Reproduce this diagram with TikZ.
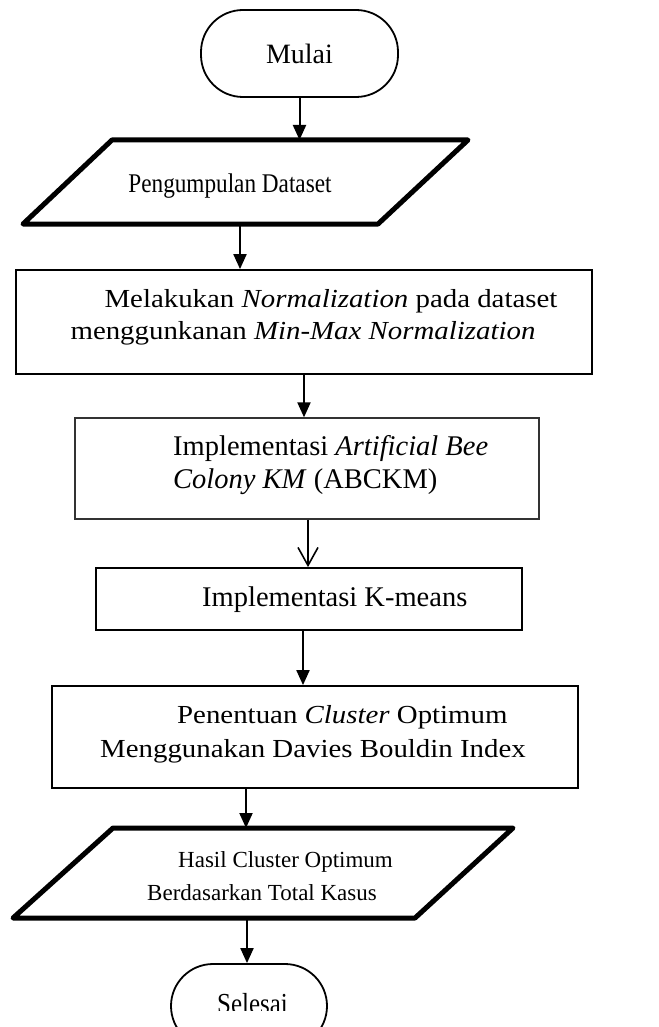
\documentclass[tikz,border=0pt]{standalone}
\usepackage{fontspec}
\setmainfont{Liberation Serif}
\newfontfamily\fwide{Liberation Serif}[FakeStretch=1.11]
\newfontfamily\fnarrow{Liberation Serif}[FakeStretch=0.86]
\usetikzlibrary{arrows.meta}
\tikzset{
  term/.style={draw=black, line width=1.8pt, rounded corners=42pt, inner sep=0pt},
  procbox/.style={draw=black, line width=1.8pt, inner sep=0pt},
  lightbox/.style={draw=black!80, line width=1.3pt, inner sep=0pt},
  iobox/.style={draw=black, line width=5pt, line join=round},
  arr/.style={line width=2pt, -{Triangle[length=15pt,width=13pt]}},
  openarr/.style={line width=1.6pt, -{Straight Barb[length=18pt,width=20pt,line width=1.6pt]}},
  lbl/.style={inner sep=0pt, anchor=base west},
  lblc/.style={inner sep=0pt, anchor=base},
}
\begin{document}
\begin{tikzpicture}[x=1pt,y=-1pt]
\useasboundingbox (0,0) rectangle (658,1027);
\clip (0,0) rectangle (658,1027);
\fill[white] (0,0) rectangle (658,1027);

% Mulai
\node[term, minimum width=197pt, minimum height=87pt, font=\fontsize{28}{32}\selectfont] (start) at (299.5,53.5) {Mulai};

% Pengumpulan Dataset (input)
\draw[iobox] (112,140) -- (468,140) -- (378,224) -- (23,224) -- cycle;
\coordinate (p1in) at (299.5,140);
\coordinate (p1out) at (240,224);
\node[lblc, font=\fnarrow\fontsize{27}{31}\selectfont] (p1t) at (230,193) {Pengumpulan Dataset};

% Normalization
\node[procbox, minimum width=576pt, minimum height=104pt] (b1) at (304,322) {};
\node[lblc, font=\fwide\fontsize{26}{30}\selectfont] (b1t1) at (331,307) {Melakukan \textit{Normalization} pada dataset};
\node[lblc, font=\fwide\fontsize{26}{30}\selectfont] (b1t2) at (303,339) {menggunkanan \textit{Min-Max Normalization}};

% ABCKM
\node[lightbox, minimum width=464pt, minimum height=101pt] (b2) at (307,468.5) {};
\node[lbl, font=\fontsize{28.5}{32}\selectfont] (b2t1) at (173,455) {Implementasi \textit{Artificial Bee}};
\node[lbl, font=\fontsize{28.5}{32}\selectfont] (b2t2) at (173,488) {\textit{Colony KM} (ABCKM)};

% K-means
\node[procbox, minimum width=426pt, minimum height=62pt] (b3) at (309,599) {};
\node[lbl, font=\fontsize{28.5}{32}\selectfont] (b3t) at (202,606) {Implementasi K-means};

% Davies Bouldin
\node[procbox, minimum width=526pt, minimum height=102pt] (b4) at (315,737) {};
\node[lbl, font=\fwide\fontsize{26}{30}\selectfont] (b4t1) at (177,723) {Penentuan \textit{Cluster} Optimum};
\node[lbl, font=\fwide\fontsize{26}{30}\selectfont] (b4t2) at (100,757) {Menggunakan Davies Bouldin Index};

% Hasil (output)
\draw[iobox] (113,828) -- (513,828) -- (415,918) -- (13,918) -- cycle;
\coordinate (p2in) at (246,828);
\coordinate (p2out) at (247,918);
\node[lbl, font=\fontsize{23}{27}\selectfont] (p2t1) at (178,867) {Hasil Cluster Optimum};
\node[lbl, font=\fontsize{23}{27}\selectfont] (p2t2) at (147,900) {Berdasarkan Total Kasus};

% Selesai
\node[term, minimum width=156pt, minimum height=84pt] (end) at (249,1006) {};
\begin{scope}
\clip (0,0) rectangle (658,1010);
\node[lblc, font=\fnarrow\fontsize{29}{33}\selectfont] (endt) at (252.5,1013) {Selesai};
\end{scope}

% connectors
\draw[arr] (start.south) -- (p1in);
\draw[arr] (p1out) -- (p1out |- b1.north);
\draw[arr] (b1.south) -- (b1.south |- b2.north);
\draw[openarr] ([xshift=1pt]b2.south) -- ([xshift=1pt]b2.south |- b3.north);
\draw[arr] ([xshift=-6pt]b3.south) -- ([xshift=-6pt]b3.south |- b4.north);
\draw[arr] (p2in |- b4.south) -- (p2in);
\draw[arr] (p2out) -- (p2out |- end.north);
\end{tikzpicture}
\end{document}
